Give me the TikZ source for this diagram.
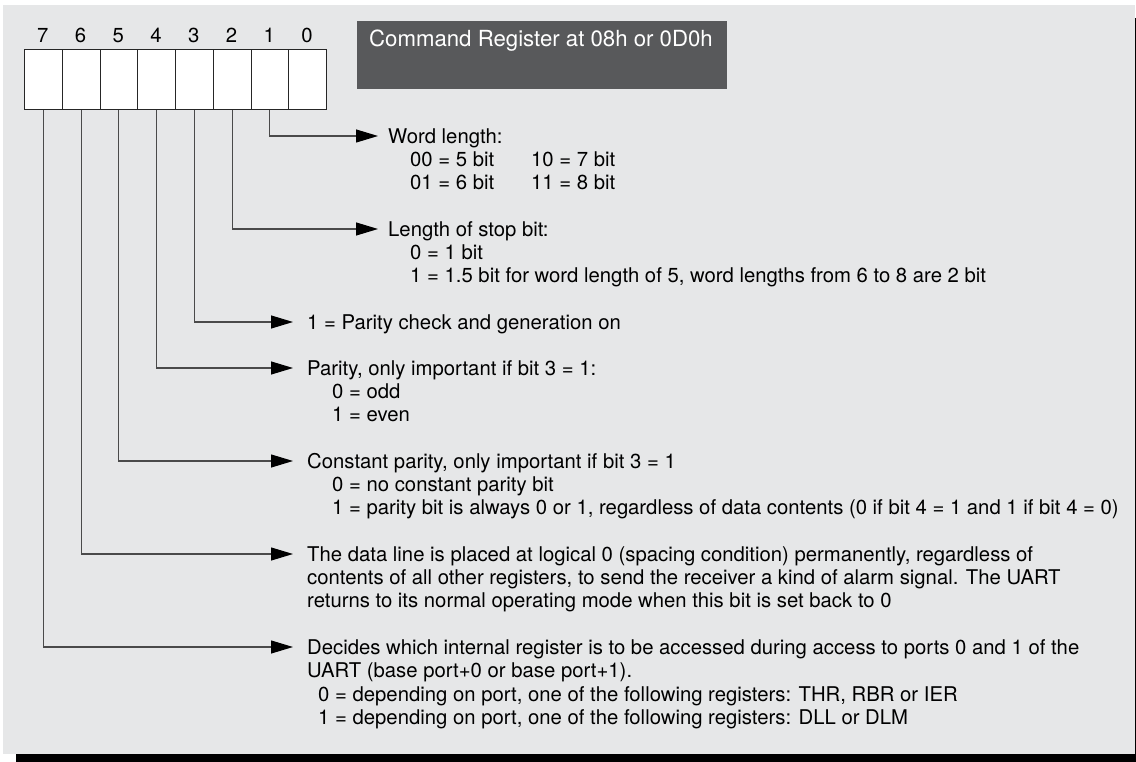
\documentclass[tikz,border=0pt]{standalone}
\usepackage{fontspec}
\setmainfont{TeX Gyre Heros}
\usetikzlibrary{arrows.meta}
\definecolor{panel}{HTML}{E6E7E8}
\definecolor{titlebg}{HTML}{58595B}
\definecolor{wirecol}{HTML}{4A4A4A}
\begin{document}
\begin{tikzpicture}[x=1pt,y=-1pt,
  txt/.style={anchor=base west, inner sep=0pt, font=\fontsize{20.3}{23}\selectfont},
  bitbox/.style={draw=black!85, fill=white, line width=0.9pt, minimum width=37.75pt, minimum height=60pt, inner sep=0pt, anchor=north west},
  bitnum/.style={font=\fontsize{20.3}{23}\selectfont, anchor=base, inner sep=0pt},
  conn/.style={draw=wirecol, line width=1.1pt, -{Triangle[length=22pt,width=13pt,color=black]}},
  titlebox/.style={fill=titlebg, minimum width=370pt, minimum height=67.5pt, inner sep=0pt, anchor=north west},
  titletxt/.style={anchor=base west, inner sep=0pt, text=white, font=\fontsize{22.2}{26}\selectfont}
]
\useasboundingbox (0,0) rectangle (1136,762);
\fill[white] (0,0) rectangle (1136,762);
\fill[black] (16,18) rectangle (1150,775);
\fill[panel] (3,5) rectangle (1135,754);

% title
\node[titlebox] (title) at (357,21) {};
\node[titletxt] (titletext) at (369,46.5) {Command Register at 08h or 0D0h};

% bit boxes and numbers
\foreach \b [count=\i from 0] in {7,6,5,4,3,2,1,0} {
  \node[bitbox] (b\b) at ({24+\i*37.75},49) {};
  \node[bitnum] (n\b) at ({24+(\i+0.5)*37.75},42.3) {\b};
}

% arrow tips
\coordinate (t1) at (378,136);
\coordinate (t2) at (378,229);
\coordinate (t3) at (293,322);
\coordinate (t4) at (293,368);
\coordinate (t5) at (293,461);
\coordinate (t6) at (293,554);
\coordinate (t7) at (293,647);

\foreach \b in {1,...,7} {
  \draw[conn] (b\b.south) |- (t\b);
}

% texts bit 1
\node[txt] (w1a) at (388,143.3) {Word length:};
\node[txt] (w1b) at (410,166.5) {00 = 5 bit};
\node[txt] (w1c) at (531,166.5) {10 = 7 bit};
\node[txt] (w1d) at (410,189.7) {01 = 6 bit};
\node[txt] (w1e) at (531,189.7) {11 = 8 bit};
% bit 2
\node[txt] (w2a) at (388,236.3) {Length of stop bit:};
\node[txt] (w2b) at (410,259.5) {0 = 1 bit};
\node[txt] (w2c) at (410,282.7) {1 = 1.5 bit for word length of 5, word lengths from 6 to 8 are 2 bit};
% bit 3
\node[txt] (w3a) at (307,329.3) {1 = Parity check and generation on};
% bit 4
\node[txt] (w4a) at (307,375.3) {Parity, only important if bit 3 = 1:};
\node[txt] (w4b) at (332,398.5) {0 = odd};
\node[txt] (w4c) at (332,421.7) {1 = even};
% bit 5
\node[txt] (w5a) at (307,468.3) {Constant parity, only important if bit 3 = 1};
\node[txt] (w5b) at (332,491.5) {0 = no constant parity bit};
\node[txt] (w5c) at (332,514.7) {1 = parity bit is always 0 or 1, regardless of data contents (0 if bit 4 = 1 and 1 if bit 4 = 0)};
% bit 6
\node[txt] (w6a) at (307,561.3) {The data line is placed at logical 0 (spacing condition) permanently, regardless of};
\node[txt] (w6b) at (307,584.5) {contents of all other registers, to send the receiver a kind of alarm signal. The UART};
\node[txt] (w6c) at (307,607.7) {returns to its normal operating mode when this bit is set back to 0};
% bit 7
\node[txt] (w7a) at (307,654.3) {Decides which internal register is to be accessed during access to ports 0 and 1 of the};
\node[txt] (w7b) at (307,677.5) {UART (base port+0 or base port+1).};
\node[txt] (w7c) at (318,701.7) {0 = depending on port, one of the following registers: THR, RBR or IER};
\node[txt] (w7d) at (318,724.9) {1 = depending on port, one of the following registers: DLL or DLM};
\end{tikzpicture}
\end{document}
